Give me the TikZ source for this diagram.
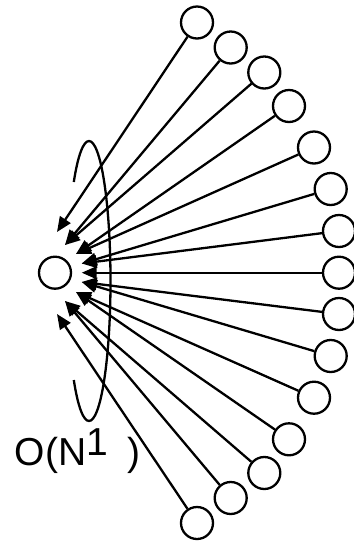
\documentclass[tikz,border=0pt]{standalone}
\usepackage{fontspec}
\setmainfont{Liberation Sans}
\usetikzlibrary{arrows.meta}
\begin{document}
\begin{tikzpicture}[x=1pt,y=-1pt,
  ball/.style={circle,draw,line width=2.3pt,minimum size=32pt,inner sep=0pt},
  link/.style={line width=2.3pt,-{Triangle[length=15pt,width=12.5pt]}},
  spin/.style={line width=2.3pt}]
\useasboundingbox (0,0) rectangle (354,542);
% central node
\node[ball] (o) at (55,272.7) {};
% outer nodes
\node[ball] (c1) at (197,22.5) {};
\node[ball] (c2) at (230.7,47.5) {};
\node[ball] (c3) at (264.3,72.5) {};
\node[ball] (c4) at (289,106) {};
\node[ball] (c5) at (314,147.5) {};
\node[ball] (c6) at (330.7,189) {};
\node[ball] (c7) at (339,231) {};
\node[ball] (c8) at (339,272.7) {};
\node[ball] (c9) at (339,314) {};
\node[ball] (c10) at (330.7,356) {};
\node[ball] (c11) at (314,397.7) {};
\node[ball] (c12) at (289,439.3) {};
\node[ball] (c13) at (264.3,473) {};
\node[ball] (c14) at (230.7,498) {};
\node[ball] (c15) at (197,523) {};
% arrow tips
\coordinate (t1) at (57,232);
\coordinate (t2) at (65,245);
\coordinate (t3) at (76,254);
\coordinate (t4) at (81.7,263.5);
\coordinate (t5) at (81.7,272.7);
\coordinate (t6) at (81.7,282);
\coordinate (t7) at (76,292);
\coordinate (t8) at (65,301);
\coordinate (t9) at (57,314);
% connectors
\draw[link] (c1) -- (t1);
\draw[link] (c2) -- (t2);
\draw[link] (c3) -- (t2);
\draw[link] (c4) -- (t3);
\draw[link] (c5) -- (t3);
\draw[link] (c6) -- (t4);
\draw[link] (c7) -- (t4);
\draw[link] (c8) -- (t5);
\draw[link] (c9) -- (t6);
\draw[link] (c10) -- (t6);
\draw[link] (c11) -- (t7);
\draw[link] (c12) -- (t7);
\draw[link] (c13) -- (t8);
\draw[link] (c14) -- (t8);
\draw[link] (c15) -- (t9);
% rotation ellipse
\coordinate (e) at (89,281);
\draw[spin] ([shift={(-135:21.5 and 140)}]e) arc[start angle=-135,end angle=135,x radius=21.5,y radius=140];
% label
\node[anchor=base west,inner sep=0pt,font=\fontsize{39}{41}\selectfont] (lbl) at (14.5,465.7) {O(N\raisebox{10pt}{1}\hspace{20pt})};
\end{tikzpicture}
\end{document}
